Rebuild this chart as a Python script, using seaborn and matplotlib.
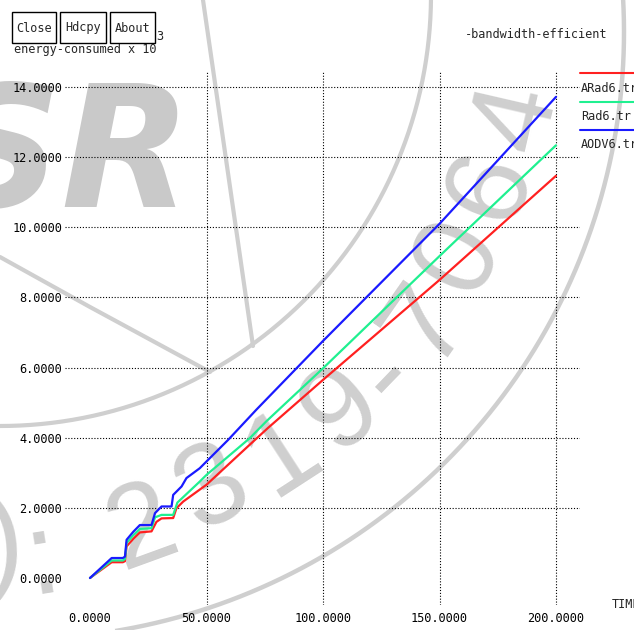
import numpy as np
import pandas as pd
import seaborn as sns
import matplotlib.pyplot as plt
from matplotlib.patches import Rectangle
from matplotlib.lines import Line2D
from matplotlib.transforms import Affine2D

# ---- data: energy consumed (x 10^3) against simulation time ----
arad_time = [0, 9.3, 14.1, 15.0, 15.7, 18.6, 21.4, 26.4, 28.5, 30.7, 35.7, 37.1, 40,
             50, 70, 76.4, 100, 150, 200]
arad_energy = [0, 0.45, 0.45, 0.48, 0.90, 1.12, 1.30, 1.33, 1.60, 1.70, 1.71, 1.99, 2.18,
               2.66, 3.89, 4.28, 5.65, 8.50, 11.47]

rad_time = [0, 9.3, 14.1, 15.0, 15.7, 18.6, 21.4, 26.4, 27.9, 30.7, 35.7, 37.5, 47.1,
            50, 68.6, 75.7, 100, 150, 200]
rad_energy = [0, 0.50, 0.50, 0.54, 1.00, 1.22, 1.40, 1.42, 1.73, 1.80, 1.80, 2.15, 2.75,
              2.94, 3.99, 4.47, 5.98, 9.18, 12.34]

aodv_time = [0, 9.3, 14.1, 15.0, 15.7, 18.6, 21.4, 26.4, 27.9, 30.7, 35.0, 35.7, 39.3,
             41.4, 47.1, 50.7, 59.3, 71.4, 100, 150, 200]
aodv_energy = [0, 0.57, 0.57, 0.61, 1.09, 1.32, 1.51, 1.51, 1.85, 2.04, 2.04, 2.37, 2.61,
               2.85, 3.13, 3.37, 3.94, 4.80, 6.76, 10.10, 13.72]

series_names = ["ARad6.tr", "Rad6.tr", "AODV6.tr"]
series_colors = ["#ff2020", "#1ff090", "#1a1aff"]

x_ticks = [0, 50, 100, 150, 200]
y_ticks = [0, 2, 4, 6, 8, 10, 12, 14]
x_tick_labels = ["0.0000", "50.0000", "100.0000", "150.0000", "200.0000"]
y_tick_labels = ["0.0000", "2.0000", "4.0000", "6.0000", "8.0000", "10.0000",
                 "12.0000", "14.0000"]

frames = []
for name, t, e in [(series_names[0], arad_time, arad_energy),
                   (series_names[1], rad_time, rad_energy),
                   (series_names[2], aodv_time, aodv_energy)]:
    frames.append(pd.DataFrame({"time": t, "energy": e, "file": name}))
df = pd.concat(frames, ignore_index=True)

sns.set_theme(style="white")
plt.rcParams['font.family'] = ['DejaVu Sans Mono', 'DejaVu Sans']
FS = 8.6

W, H = 634, 630
fig = plt.figure(figsize=(W / 100, H / 100), dpi=100)
fig.patch.set_facecolor("white")

# pixel coordinates (origin top-left, y downward)
PX = Affine2D().scale(1 / W, -1 / H).translate(0, 1) + fig.transFigure

# ---- faint background emblem ----
wm = "#cfcfcf"
fig.text(192, 207, "SR", transform=PX, ha="right", va="baseline", fontsize=122,
         fontweight="bold", style="italic", family="DejaVu Sans", color="#c9c9c9",
         zorder=-5)

def ring(cx, cy, r, a0, a1, lw):
    t = np.radians(np.linspace(a0, a1, 300))
    fig.add_artist(Line2D(cx + r * np.cos(t), cy + r * np.sin(t), transform=PX,
                          color=wm, lw=lw, zorder=-5, solid_capstyle="butt"))

ring(17, 32, 607, -5, 100, 3.2)
ring(0, -5, 431, -5, 100, 3.0)
fig.add_artist(Line2D([203, 253], [0, 346], transform=PX, color=wm, lw=3.0, zorder=-5))
fig.add_artist(Line2D([0, 90, 210], [257, 307, 372], transform=PX, color=wm, lw=3.0,
                      zorder=-5))

# emblem lettering along the ring: (glyph, x, y, rotation)
emblem_glyphs = [(")", 4, 545, 5), (":", 43, 561, 9), ("2", 142, 530, 20),
                 ("3", 213, 490, 28), ("1", 283, 455, 33), ("9", 342, 410, 40),
                 ("-", 388, 377, 46), ("7", 428, 325, 55), ("0", 460, 257, 63),
                 ("6", 492, 187, 70), ("4", 518, 118, 77)]
for ch, gx, gy, rot in emblem_glyphs:
    fig.text(gx, gy, ch, transform=PX, ha="center", va="center", rotation=rot,
             rotation_mode="anchor", fontsize=84, family="Liberation Sans",
             color=wm, zorder=-5)

# ---- plotting area ----
ax = fig.add_axes([65 / W, 1 - 605 / H, 515 / W, 533 / H])
ax.patch.set_alpha(0)
for s in ax.spines.values():
    s.set_visible(False)

for yv in y_ticks[1:]:
    ax.axhline(yv, color="black", lw=0.8, ls=(0, (1, 1.6)), zorder=1)
for xv in x_ticks[1:]:
    ax.axvline(xv, color="black", lw=0.8, ls=(0, (1, 1.6)), zorder=1)

sns.lineplot(data=df, x="time", y="energy", hue="file", palette=series_colors,
             hue_order=series_names, sort=False, estimator=None, lw=1.6,
             legend=False, ax=ax, zorder=3)

ax.set_xlim(-10.73, 210.3)
ax.set_ylim(-0.77, 14.43)
ax.set_xticks(x_ticks, x_tick_labels)
ax.set_yticks(y_ticks, y_tick_labels)
ax.tick_params(axis="both", length=0, labelsize=FS, colors="black")
ax.tick_params(axis="y", pad=2.2)
ax.tick_params(axis="x", pad=5.0)
ax.set_xlabel("")
ax.set_ylabel("")

# ---- legend at the right edge ----
for k, (name, col) in enumerate(zip(series_names, series_colors)):
    yl = 73 + 28.5 * k
    fig.add_artist(Line2D([580, 640], [yl, yl], transform=PX, color=col, lw=1.5))
    fig.text(581, yl + 15, name, transform=PX, ha="left", va="center", fontsize=FS)

# ---- titles and labels ----
fig.text(14, 49, "energy-consumed x 10", transform=PX, ha="left", va="center",
         fontsize=FS, zorder=2)
fig.text(156, 37, "3", transform=PX, ha="left", va="center", fontsize=FS)
fig.text(465, 35, "-bandwidth-efficient", transform=PX, ha="left", va="center",
         fontsize=FS)
fig.text(612, 604, "TIME", transform=PX, ha="left", va="center", fontsize=FS)

# ---- window buttons ----
for label, x0, x1 in [("Close", 12, 56), ("Hdcpy", 60, 106), ("About", 110, 155)]:
    fig.add_artist(Rectangle((x0, 12), x1 - x0, 31, transform=PX, facecolor="white",
                             edgecolor="black", lw=1.0, zorder=4))
    fig.text((x0 + x1) / 2, 28, label, transform=PX, ha="center", va="center",
             fontsize=FS, zorder=5)

fig.savefig("out.png", dpi=100)
